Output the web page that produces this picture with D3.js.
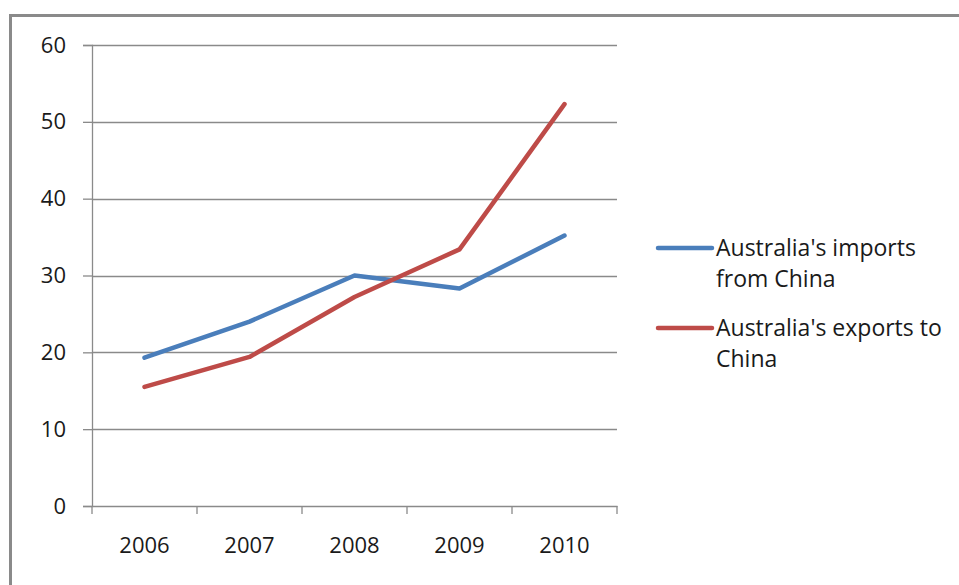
<!DOCTYPE html>
<html>
<head>
<meta charset="utf-8">
<script src="https://cdn.jsdelivr.net/npm/d3@7"></script>
<style>
  body { margin: 0; background: #fff; }
  svg { display: block; font-family: "Open Sans", sans-serif; }
</style>
</head>
<body>
<svg id="chart"></svg>
<script>
// data
const years = ['2006', '2007', '2008', '2009', '2010'];
const imports = [19.3, 24.0, 30.0, 28.3, 35.2];
const exports = [15.5, 19.4, 27.2, 33.4, 52.3];
const yTicks = [0, 10, 20, 30, 40, 50, 60];
const legendLines = [["Australia's imports", 'from China'], ["Australia's exports to", 'China']];

const width = 959, height = 585;
const margin = {top: 45, left: 92, right: 342, bottom: 79};
const innerW = width - margin.left - margin.right;
const innerH = height - margin.top - margin.bottom;
const font = '"Open Sans", sans-serif';

const svg = d3.select('#chart')
    .attr('width', width)
    .attr('height', height);

// outer frame
svg.append('rect')
    .attr('x', 10.5).attr('y', 15.5)
    .attr('width', 1000).attr('height', 1000)
    .attr('fill', 'none')
    .attr('stroke', '#8a8a8a')
    .attr('stroke-width', 3);

const chart = svg.append('g')
    .attr('transform', `translate(${margin.left}, ${margin.top})`);

const xscale = d3.scaleBand()
    .domain(years)
    .range([0, innerW]);

const yscale = d3.scaleLinear()
    .domain([0, 60])
    .range([innerH, 0]);

// gridlines + y axis
const yaxis = d3.axisLeft(yscale)
    .tickValues(yTicks)
    .tickSize(9)
    .tickPadding(17);

const yg = chart.append('g').call(yaxis).attr('font-family', font);
yg.select('.domain').attr('stroke', '#8a8a8a').attr('stroke-width', 1.3);
yg.selectAll('.tick line').attr('stroke', '#8a8a8a').attr('stroke-width', 1.3);
yg.selectAll('.tick text')
    .style('font-size', '22px')
    .attr('fill', '#1a1a1a');

chart.append('g')
    .selectAll('line')
    .data(yTicks.filter(d => d > 0))
    .join('line')
    .attr('x1', 0).attr('x2', innerW)
    .attr('y1', d => Math.round(yscale(d)) + 0.5)
    .attr('y2', d => Math.round(yscale(d)) + 0.5)
    .attr('stroke', '#8a8a8a')
    .attr('stroke-width', 1.3);

// x axis
const xaxis = d3.axisBottom(xscale)
    .tickSize(0)
    .tickPadding(31);

const xg = chart.append('g')
    .attr('transform', `translate(0, ${innerH})`)
    .call(xaxis)
    .attr('font-family', font);
xg.select('.domain').attr('stroke', '#8a8a8a').attr('stroke-width', 1.3);
xg.selectAll('.tick text')
    .style('font-size', '22px')
    .attr('fill', '#1a1a1a');

const bounds = years.map(d => xscale(d)).concat([innerW]);
xg.selectAll('.xtick')
    .data(bounds)
    .join('line')
    .attr('class', 'xtick')
    .attr('x1', d => d).attr('x2', d => d)
    .attr('y1', 0).attr('y2', 8)
    .attr('stroke', '#8a8a8a')
    .attr('stroke-width', 1.3);

// lines
const colors = ['#4a7ebb', '#be4b48'];
const series = [imports, exports];

const line = d3.line()
    .x((d, i) => xscale(years[i]) + xscale.bandwidth() / 2)
    .y(d => yscale(d));

series.forEach((s, i) => {
    chart.append('path')
        .attr('d', line(s))
        .attr('fill', 'none')
        .attr('stroke', colors[i])
        .attr('stroke-width', 4.5)
        .attr('stroke-linecap', 'round')
        .attr('stroke-linejoin', 'round');
});

// legend
const legend = svg.append('g')
    .attr('transform', 'translate(658, 248)');

legendLines.forEach((txt, i) => {
    const g = legend.append('g').attr('transform', `translate(0, ${i * 80})`);
    g.append('line')
        .attr('x1', 0).attr('x2', 54)
        .attr('y1', 0).attr('y2', 0)
        .attr('stroke', colors[i])
        .attr('stroke-width', 4.5)
        .attr('stroke-linecap', 'round');
    g.append('text')
        .attr('x', 58)
        .attr('y', 8)
        .style('font-size', '23px')
        .attr('fill', '#1a1a1a')
        .selectAll('tspan')
        .data(txt)
        .join('tspan')
        .attr('x', 58)
        .attr('dy', (d, j) => j === 0 ? 0 : 31)
        .text(d => d);
});
</script>
</body>
</html>
